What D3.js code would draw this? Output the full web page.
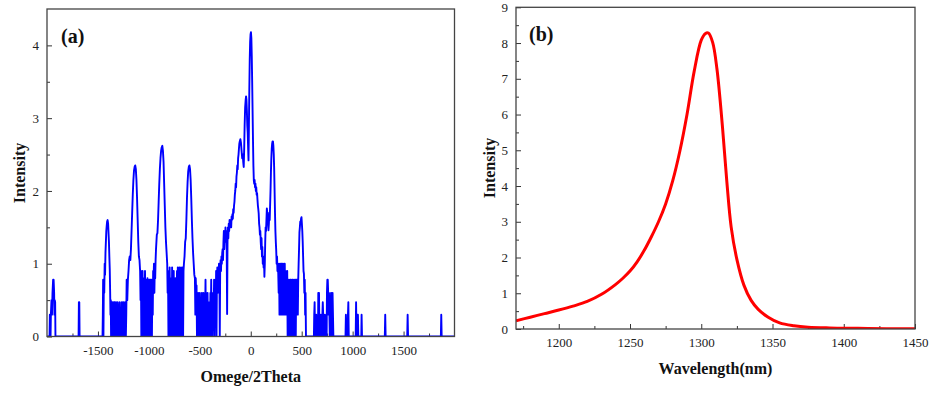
<!DOCTYPE html>
<html><head><meta charset="utf-8">
<script src="https://cdn.jsdelivr.net/npm/d3@7"></script>
<style>body{margin:0;background:#fff;} svg{display:block;}</style>
</head><body>
<svg id="c" width="931" height="395"></svg>
<script>
// ---------- Panel (a) data: Omega/2Theta scan ----------
const omegaPos = [
 -1998,-1975,-1972,-1968,-1965,-1962,-1956,-1951,-1946,-1940,-1935,-1930,-1927,-1924,-1920,-1917,-1690,-1687,-1683,-1680,-1455,
 -1452,-1449,-1446,-1442,-1438,-1434,-1430,-1426,-1422,-1418,-1414,-1410,-1405,-1400,-1396,-1392,-1388,-1384,-1380,-1377,-1374,-1371,-1368,-1365,-1362,-1359,-1356,-1352,-1348,-1345,-1341,-1338,-1334,-1330,-1326,-1322,-1318,-1314,-1310,-1306,-1302,-1298,-1294,-1290,-1286,-1282,-1278,-1274,-1270,-1266,-1262,-1258,-1254,-1250,-1246,-1242,-1238,-1234,-1230,-1226,
 -1222,-1218,-1212,-1206,-1200,-1194,-1188,-1182,-1176,-1170,-1164,-1158,-1152,-1146,-1140,-1134,-1128,-1122,-1116,-1110,-1104,-1098,-1092,-1086,-1082,-1078,-1074,-1070,-1066,-1062,-1058,-1054,-1050,-1046,-1042,-1038,-1034,-1030,-1026,-1022,-1018,-1014,-1010,-1006,-1002,-998,-994,-990,-986,-982,-978,-974,-970,-966,-962,-958,-954,
 -950,-946,-942,-938,-934,-930,-926,-922,-916,-910,-904,-898,-892,-886,-880,-874,-868,-862,-856,-850,-844,-838,-832,-826,-820,-816,-812,-808,-804,
 -800,-796,-792,-788,-784,-780,-776,-772,-768,-764,-760,-756,-752,-748,-744,-740,-736,-732,-728,-724,-720,-716,-712,-708,-704,-700,-696,-692,-688,-684,-680,-676,-672,-668,-664,-660,
 -656,-650,-644,-638,-632,-626,-620,-614,-608,-602,-596,-590,-584,-578,-572,-566,-560,-554,-548,-544,-540,-536,-532,
 -528,-524,-520,-516,-512,-508,-504,-500,-496,-492,-488,-484,-480,-476,-472,-468,-464,-460,-456,-452,-448,-444,-440,-436,-432,-428,-424,-420,-416,-412,-408,-404,-400,-396,-392,-388,-384,-380,-376,-372,-368,-364,-360,-356,-352,-348,-344,-340,-336,-332,-328,-324,-320,
 -316,-312,-308,-304,-300,-296,-292,-288,-284,-280,-276,-272,-268,-264,-260,-256,-252,-248,-244,-240,-236,-232,-228,-224,-220,-216,-212,-208,-204,-200,-196,-192,-188,-184,-180,-176,-172,-168,-164,-160,-156,-152,-148,-144,-140,-136,-132,-128,-124,-120,-116,-112,
 -108,-102,-96,-90,-84,-78,-74,-69,-64,-60,-55,-50,-46,-42,-38,-34,-30,-26,-22,-18,-14,-10,-6,-2,2,6,10,14,18,22,26,30,34,38,42,46,50,54,58,62,66,70,74,78,82,86,90,94,98,102,106,110,114,118,122,126,130,134,138,142,146,150,154,158,162,166,170,174,178,182,186,190,194,198,202,206,210,214,218,222,226,230,234,238,242,246,250,254,258,262,266,270,
 274,278,282,286,290,294,298,302,306,310,314,318,322,326,330,334,338,342,346,350,354,358,362,366,370,374,378,382,386,390,394,398,402,406,410,414,418,422,426,430,434,438,442,446,450,454,
 458,462,466,470,474,478,482,486,490,494,498,502,506,510,514,518,522,526,530,534,538,542,
 560,620,623,627,631,640,643,647,660,663,667,670,674,685,688,692,700,703,707,711,714,725,728,732,745,748,752,756,760,764,768,772,776,780,784,788,792,800,803,807,811,930,934,938,950,954,958,962,1030,1034,1038,1045,1048,1052,1056,1085,1088,1092,1316,1320,1324,1536,1540,1544,1866,1870,1874,1998
];
const omegaInt = [
 0,0,0.3,0.3,0,0.3,0.5,0.3,0.6,0.78,0.78,0.6,0.3,0.5,0.47,0,0,0.47,0.47,0,0,
 0.3,0.78,0,0.78,0.6,1.0,0.85,1.15,1.3,1.45,1.52,1.58,1.6,1.55,1.42,1.3,1.1,0.92,0.6,0.3,0.5,0,0.47,0.3,0.47,0,0.3,0.47,0.3,0,0.47,0.3,0.47,0,0.3,0.47,0.3,0,0.3,0.47,0.3,0,0.3,0.3,0.47,0,0.3,0.3,0,0.47,0.3,0,0.47,0.47,0.3,0,0.3,0.47,0.3,0,
 0.3,0.78,0.5,0.78,0.9,1.05,1.1,1.05,1.2,1.45,1.7,1.95,2.15,2.28,2.33,2.35,2.3,2.15,1.9,1.6,1.3,1.1,1.05,0.9,0.5,0.9,0,0.8,0,0.9,0.3,0.8,0,0.8,0,0.9,0.3,0.78,0,0.78,0,0.8,0.3,0.78,0,0.78,0,0.78,0.3,0.78,0,0.78,0,0.78,0.3,0.9,0.8,
 1.0,0.6,0.95,0.8,1.05,1.2,1.3,1.4,1.42,1.6,1.85,2.1,2.3,2.45,2.55,2.6,2.62,2.55,2.4,2.1,1.8,1.5,1.3,1.15,1.0,0.6,0.9,0,0.9,
 0,0.95,0.3,0.8,0,0.78,0,0.95,0.3,0.78,0,0.9,0,0.78,0.3,0.8,0,0.78,0,0.9,0.3,0.95,0,0.78,0,0.95,0.3,0.9,0,0.95,0.6,0.9,0,0.95,0,0.9,
 1.0,1.1,1.3,1.35,1.6,1.9,2.12,2.27,2.33,2.35,2.3,2.15,1.9,1.6,1.35,1.15,1.0,0.85,0.8,0.3,0.8,0.6,0.7,
 0,0.6,0,0.6,0,0.47,0.3,0.6,0,0.47,0,0.3,0.6,0,0.47,0.3,0.6,0,0.47,0,0.3,0.78,0,0.6,0,0.3,0.6,0,0.47,0,0.3,0.47,0,0.6,0.3,0.78,0,0.6,0,0.47,0.6,0.3,0.78,0,0.6,0.78,0.3,0.9,0,0.78,0.95,0.6,0.9,
 0.78,1.0,0.9,0,0.95,1.05,0.9,1.1,1.0,1.15,1.2,1.05,1.3,1.45,1.2,1.38,1.3,1.5,1.3,1.45,1.2,0.31,1.3,1.5,1.35,1.55,1.45,1.6,1.5,1.55,1.6,1.5,1.65,1.6,1.68,1.62,1.75,1.7,1.8,1.85,1.95,2.0,2.1,2.05,2.2,2.25,2.35,2.3,2.45,2.5,2.58,2.65,
 2.68,2.71,2.66,2.55,2.45,2.5,2.4,2.33,2.6,2.9,3.15,3.25,3.3,3.25,3.1,2.9,2.8,2.6,2.42,2.9,3.4,3.8,4.05,4.15,4.18,4.1,3.85,3.5,3.1,2.7,2.35,2.15,2.1,2.15,2.05,2.1,2.0,2.05,1.95,1.97,1.88,1.8,1.75,1.69,1.55,1.5,1.4,1.45,1.3,1.2,1.35,1.1,1.23,1.0,1.1,0.95,1.05,0.82,1.0,1.3,1.5,1.45,1.6,1.76,1.7,1.6,1.55,1.46,1.55,1.7,1.6,1.8,2.0,2.25,2.45,2.58,2.65,2.68,2.68,2.62,2.5,2.3,2.0,1.7,1.45,1.3,1.18,1.0,1.1,0.9,1.0,0.86,
 0.6,1.0,0.3,0.95,0.3,1.0,0.5,1.0,0.3,1.0,0.3,0.95,0.3,1.0,0.5,1.0,0.3,0.9,0.3,0.78,0.3,0.9,0,0.78,0,0.78,0,0.6,0.78,0,0.78,0,0.6,0.78,0,0.78,0,0.6,0.78,0,0.6,0.78,0,0.78,0.3,0.78,
 0.3,0.3,0.78,1.0,1.2,1.43,1.5,1.58,1.55,1.62,1.64,1.55,1.45,1.3,1.1,0.9,0.86,0.6,0.78,0.3,0.6,0,
 0,0,0.3,0.47,0,0,0.3,0,0,0.6,0.3,0.6,0,0,0.3,0,0,0.3,0.47,0.3,0,0,0.3,0,0,0.6,0.78,0.78,0.6,0.3,0.6,0.3,0,0.47,0.3,0.6,0,0,0.6,0.3,0,0,0.3,0,0,0.3,0.47,0,0,0.47,0,0,0.3,0.3,0,0,0.3,0,0,0.3,0,0,0.3,0,0,0.3,0,0
];
const omegaXTicks = [-1500, -1000, -500, 0, 500, 1000, 1500];
const omegaYTicks = [0, 1, 2, 3, 4];

// ---------- Panel (b) data: PL spectrum ----------
const wavelength = [1170,1180,1190,1200,1210,1220,1230,1240,1245,1250,1255,1260,1265,1270,1275,1280,1285,1290,1295,1300,1303,1305,1308,1311,1315,1318,1321,1325,1330,1335,1340,1347,1355,1365,1375,1390,1410,1430,1450];
const plInt =    [0.23,0.33,0.43,0.53,0.64,0.77,0.97,1.25,1.42,1.62,1.88,2.2,2.58,3.0,3.5,4.15,4.98,6.0,7.2,8.08,8.27,8.28,8.02,7.28,5.6,4.1,2.85,1.95,1.22,0.8,0.55,0.33,0.17,0.09,0.05,0.03,0.02,0.01,0.01];
const wlTicks = [1200, 1250, 1300, 1350, 1400, 1450];
const plYTicks = [0,1,2,3,4,5,6,7,8,9];

const svg = d3.select("#c");
const serif = "'Liberation Serif','Times New Roman',serif";

function panel(o) {
  const g = svg.append("g");
  const x = d3.scaleLinear().domain(o.xd).range([o.l, o.r]);
  const y = d3.scaleLinear().domain(o.yd).range([o.b, o.t]);
  g.append("g").attr("transform", `translate(0,${o.b})`)
    .call(d3.axisBottom(x).tickValues(o.xMinor).tickSize(-3).tickFormat(""))
    .call(s => { s.select(".domain").remove(); s.selectAll("line").attr("stroke", "#333"); });
  g.append("g").attr("transform", `translate(${o.l},0)`)
    .call(d3.axisLeft(y).tickValues(o.yMinor).tickSize(-3).tickFormat(""))
    .call(s => { s.select(".domain").remove(); s.selectAll("line").attr("stroke", "#333"); });
  g.append("g").attr("transform", `translate(0,${o.b})`)
    .call(d3.axisBottom(x).tickValues(o.xTicks).tickSize(-5).tickPadding(9).tickFormat(d => d < 0 ? "-" + Math.abs(d) : String(d)))
    .call(s => { s.select(".domain").remove(); s.selectAll("line").attr("stroke", "#333");
      s.selectAll("text").attr("font-family", serif).attr("font-size", 13).attr("fill", "#222"); });
  g.append("g").attr("transform", `translate(${o.l},0)`)
    .call(d3.axisLeft(y).tickValues(o.yTicks).tickSize(-5).tickPadding(8).tickFormat(d3.format("d")))
    .call(s => { s.select(".domain").remove(); s.selectAll("line").attr("stroke", "#333");
      s.selectAll("text").attr("font-family", serif).attr("font-size", 13).attr("fill", "#222"); });
  const id = "clip" + o.name;
  svg.append("clipPath").attr("id", id).append("rect")
    .attr("x", o.l).attr("y", o.t).attr("width", o.r - o.l).attr("height", o.b - o.t);
  const line = d3.line().x(d => x(d[0])).y(d => y(d[1])).curve(o.curve);
  g.append("path").datum(o.data).attr("clip-path", `url(#${id})`)
    .attr("d", line).attr("fill", "none").attr("stroke", o.color)
    .attr("stroke-width", o.sw).attr("stroke-linejoin", "round");
  g.append("rect").attr("x", o.l).attr("y", o.t).attr("width", o.r - o.l).attr("height", o.b - o.t)
    .attr("fill", "none").attr("stroke", "#444").attr("stroke-width", 1.3);
  g.append("text").attr("x", (o.l + o.r) / 2).attr("y", o.xlY).attr("text-anchor", "middle")
    .attr("font-family", serif).attr("font-weight", "bold").attr("font-size", 16).attr("fill", "#111").text(o.xlab);
  g.append("text").attr("transform", `translate(${o.ylX},${o.ylY}) rotate(-90)`).attr("text-anchor", "middle")
    .attr("font-family", serif).attr("font-weight", "bold").attr("font-size", 16).attr("fill", "#111").text("Intensity");
  g.append("text").attr("x", o.tagX).attr("y", o.tagY).attr("font-family", serif).attr("font-weight", "bold")
    .attr("font-size", 20).attr("fill", "#111").text(o.tag);
}

panel({
  name: "a", l: 47, r: 454.5, t: 9, b: 336.5,
  xd: [-2000, 2000], yd: [0, 4.5],
  xTicks: omegaXTicks, yTicks: omegaYTicks,
  xMinor: d3.range(-1750, 2000, 500), yMinor: d3.range(0.5, 4.5, 1),
  data: omegaPos.map((v, i) => [v, omegaInt[i]]), color: "#0000ff", sw: 1.9, curve: d3.curveLinear,
  xlab: "Omege/2Theta", xlY: 382, ylX: 25, ylY: 173, tag: "(a)", tagX: 61, tagY: 43
});
panel({
  name: "b", l: 516, r: 915, t: 7.3, b: 329,
  xd: [1170, 1450], yd: [0, 9],
  xTicks: wlTicks, yTicks: plYTicks,
  xMinor: d3.range(1175, 1450, 50), yMinor: d3.range(0.5, 9, 1),
  data: wavelength.map((v, i) => [v, plInt[i]]), color: "#ff0000", sw: 3, curve: d3.curveCatmullRom.alpha(0.5),
  xlab: "Wavelength(nm)", xlY: 374, ylX: 495, ylY: 168, tag: "(b)", tagX: 529, tagY: 41
});
</script>
</body></html>
